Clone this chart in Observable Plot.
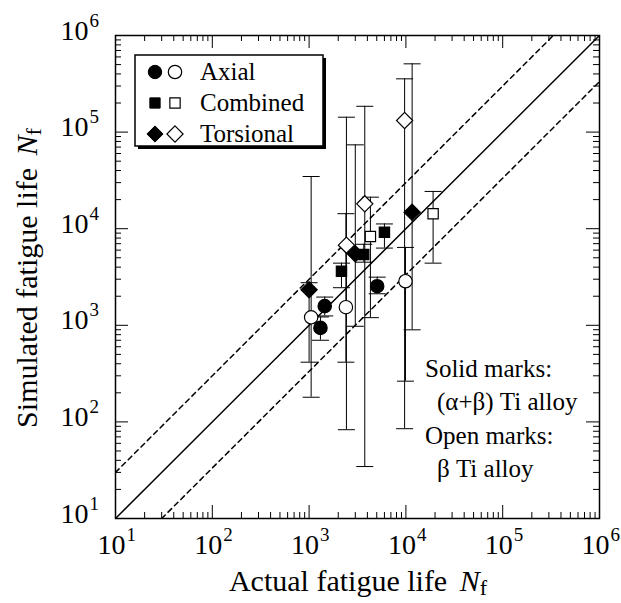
<!DOCTYPE html>
<html><head><meta charset="utf-8">
<script src="https://cdn.jsdelivr.net/npm/d3@7"></script>
<script src="https://cdn.jsdelivr.net/npm/@observablehq/plot@0.6"></script>
<style>
body{margin:0;background:#fff}
#chart{position:relative;width:621px;height:603px}
svg{font-family:"Liberation Serif","Times New Roman",serif}
</style>
</head><body><div id="chart"></div>
<script>
// ---- data ----
const loadTypes = ["Axial", "Combined", "Torsional"];
const alloyKinds = ["solid", "open"]; // solid: (α+β) Ti alloy, open: β Ti alloy
const ptType  = ["Axial","Axial","Axial","Axial","Axial","Axial",
                 "Combined","Combined","Combined","Combined","Combined",
                 "Torsional","Torsional","Torsional","Torsional","Torsional","Torsional"];
const ptAlloy = ["solid","solid","solid","open","open","open",
                 "solid","solid","solid","open","open",
                 "solid","solid","solid","open","open","open"];
const actualLife    = [1310, 1450, 5050, 1050, 2400, 9900,  2160, 3670, 6000, 4300, 19100,  1000, 3000, 11600, 2430, 3760, 9700];
const simulatedLife = [ 940, 1580, 2540, 1210, 1540, 2860,  3630, 5400, 9200, 8300, 14300,  2330, 5500, 14800, 6750, 18100, 132000];
const simLow        = [ 700, 1250, 2120,  180,  415,  264,  2450, 4500, 6300, 1200,  4400,   415,  977,   898,   83,  34.5,     85];
const simHigh       = [1220, 1960, 3150, 34700, 14300, 6400, 4400, 6900, 11200, 21200, 24300, 2760, 73800, 509000, 142600, 185000, 356000];
const tickExponents = [1, 2, 3, 4, 5, 6];
const minorMultipliers = [2, 3, 4, 5, 6, 7, 8, 9];
const scatterFactor = 3;
const legendLabels = ["Axial", "Combined", "Torsional"];
const noteLines = ["Solid marks:", "(α+β) Ti alloy", "Open marks:", "β Ti alloy"];
const xTitle = "Actual fatigue life";
const yTitle = "Simulated fatigue life";

// ---- build table ----
const data = actualLife.map((x, i) => ({
  type: ptType[i], alloy: ptAlloy[i], actual: x, sim: simulatedLife[i], lo: simLow[i], hi: simHigh[i]
}));
const majors = tickExponents.map(k => 10 ** k);
const minors = tickExponents.slice(0, -1).flatMap(k => minorMultipliers.map(m => m * 10 ** k));

const W = 621, H = 603, mL = 115, mR = 22, mT = 35, mB = 85;
const innerW = W - mL - mR, innerH = H - mT - mB;
const MAJ = 13, MIN = 6;

const symbolOf = {Axial: "circle", Combined: "square", Torsional: "diamond2"};
const rOf = {Axial: 6.7, Combined: 5.8, Torsional: 7.3};
const capSymbol = {draw(ctx, size) { const r = Math.sqrt(size / Math.PI); ctx.moveTo(-r, 0); ctx.lineTo(r, 0); }};

const tickMarks = (vals, len) => [
  Plot.tickX(vals, {x: d => d, insetTop: innerH - len, stroke: "black", strokeWidth: 1}),
  Plot.tickX(vals, {x: d => d, insetBottom: innerH - len, stroke: "black", strokeWidth: 1}),
  Plot.tickY(vals, {y: d => d, insetRight: innerW - len, stroke: "black", strokeWidth: 1}),
  Plot.tickY(vals, {y: d => d, insetLeft: innerW - len, stroke: "black", strokeWidth: 1})
];

const pointMarks = [];
for (const t of loadTypes) for (const a of alloyKinds) {
  pointMarks.push(Plot.dot(data.filter(d => d.type === t && d.alloy === a), {
    x: "actual", y: "sim", symbol: symbolOf[t], r: rOf[t],
    fill: a === "solid" ? "black" : "white", stroke: "black", strokeWidth: 1.2
  }));
}

const chart = Plot.plot({
  width: W, height: H,
  marginLeft: mL, marginRight: mR, marginTop: mT, marginBottom: mB,
  style: {fontFamily: '"Liberation Serif","Times New Roman",serif', background: "white", color: "black"},
  x: {type: "log", domain: [10, 1e6], axis: null},
  y: {type: "log", domain: [10, 1e6], axis: null},
  marks: [
    ...tickMarks(minors, MIN),
    ...tickMarks(majors, MAJ),
    Plot.line([10, 1e6], {x: d => d, y: d => d, stroke: "black", strokeWidth: 1.5, clip: true}),
    Plot.line([10, 1e6 / scatterFactor], {x: d => d, y: d => d * scatterFactor, stroke: "black", strokeWidth: 1.5, strokeDasharray: "5,4", clip: true}),
    Plot.line([10 * scatterFactor, 1e6], {x: d => d, y: d => d / scatterFactor, stroke: "black", strokeWidth: 1.5, strokeDasharray: "5,4", clip: true}),
    Plot.ruleX(data, {x: "actual", y1: "lo", y2: "hi", stroke: "black", strokeWidth: 1}),
    Plot.dot(data, {x: "actual", y: "lo", symbol: capSymbol, r: 8.5, fill: "none", stroke: "black", strokeWidth: 1}),
    Plot.dot(data, {x: "actual", y: "hi", symbol: capSymbol, r: 8.5, fill: "none", stroke: "black", strokeWidth: 1}),
    ...pointMarks,
    Plot.frame({stroke: "black", strokeWidth: 1.5}),
    // tick labels
    Plot.text(tickExponents, {x: k => 10 ** k, text: () => "10", frameAnchor: "bottom", textAnchor: "end", lineAnchor: "bottom", dx: 10, dy: 35, fontSize: 28, fill: "black"}),
    Plot.text(tickExponents, {x: k => 10 ** k, text: k => String(k), frameAnchor: "bottom", textAnchor: "start", lineAnchor: "bottom", dx: 11, dy: 22, fontSize: 19, fill: "black"}),
    Plot.text(tickExponents, {y: k => 10 ** k, text: () => "10", frameAnchor: "left", textAnchor: "end", lineAnchor: "bottom", dx: -27, dy: 4, fontSize: 28, fill: "black"}),
    Plot.text(tickExponents, {y: k => 10 ** k, text: k => String(k), frameAnchor: "left", textAnchor: "start", lineAnchor: "bottom", dx: -26, dy: -9, fontSize: 19, fill: "black"})
  ]
});
document.getElementById("chart").appendChild(chart);

// ---- titles, legend, notes ----
const svg = d3.select(chart);
const xt = svg.append("text").attr("x", 358).attr("y", 591).attr("text-anchor", "middle")
  .attr("font-size", 30).attr("fill", "black");
xt.append("tspan").text(xTitle + " ");
xt.append("tspan").attr("dx", 5).attr("font-style", "italic").text("N");
xt.append("tspan").attr("dy", 4).attr("font-size", 22).text("f");

const yt = svg.append("text").attr("transform", "translate(37,278) rotate(-90)").attr("text-anchor", "middle")
  .attr("font-size", 30).attr("fill", "black");
yt.append("tspan").text(yTitle + " ");
yt.append("tspan").attr("dx", 5).attr("font-style", "italic").text("N");
yt.append("tspan").attr("dy", 4).attr("font-size", 22).text("f");

const lg = svg.append("g").attr("text-anchor", "start");
lg.append("rect").attr("x", 138).attr("y", 58).attr("width", 188).attr("height", 91).attr("fill", "black");
lg.append("rect").attr("x", 135).attr("y", 55).attr("width", 188).attr("height", 91).attr("fill", "white").attr("stroke", "black").attr("stroke-width", 1.5);
const symPath = (name, r) => {
  const map = {circle: d3.symbolCircle, square: d3.symbolSquare, diamond2: d3.symbolDiamond2};
  return d3.symbol(map[name], Math.PI * r * r)();
};
legendLabels.forEach((lab, i) => {
  const cy = 72 + i * 31;
  const t = loadTypes[i];
  lg.append("path").attr("d", symPath(symbolOf[t], rOf[t])).attr("transform", `translate(155,${cy})`).attr("fill", "black").attr("stroke", "black");
  lg.append("path").attr("d", symPath(symbolOf[t], rOf[t])).attr("transform", `translate(175,${cy})`).attr("fill", "white").attr("stroke", "black").attr("stroke-width", 1.2);
  lg.append("text").attr("x", 200).attr("y", cy + 8).attr("text-anchor", "start").attr("font-size", 25).attr("fill", "black").text(lab);
});

const notePos = [[425, 377], [437, 410], [425, 444], [437, 477]];
noteLines.forEach((s, i) => {
  svg.append("text").attr("x", notePos[i][0]).attr("y", notePos[i][1]).attr("text-anchor", "start").attr("font-size", 25).attr("fill", "black").text(s);
});
</script>
</body></html>
